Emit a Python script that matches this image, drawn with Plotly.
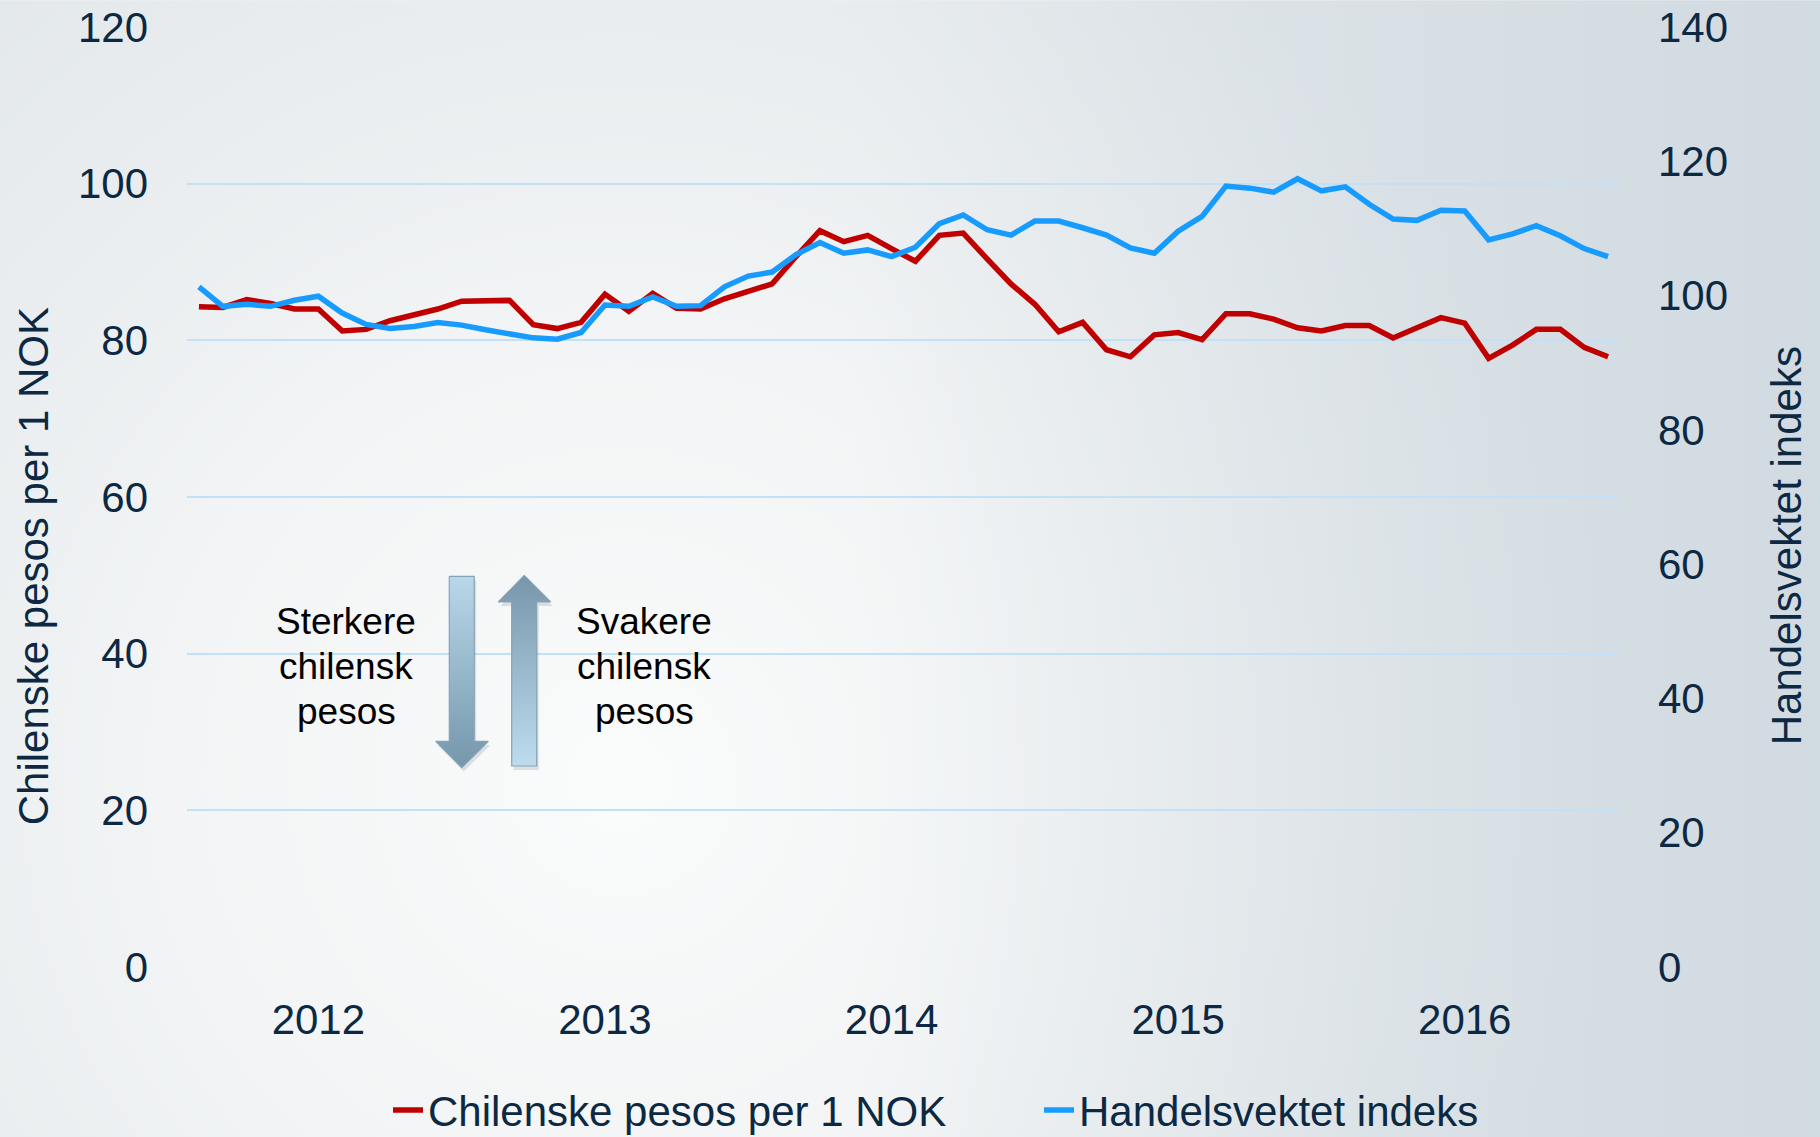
import base64
import pandas as pd
import plotly.graph_objects as go

# Monthly observations, Aug 2011 - Jul 2016
months = pd.date_range("2011-08-01", periods=60, freq="MS").strftime("%Y-%m").tolist()

clp_per_nok = [
    84.3, 84.2, 85.2, 84.7, 84.0, 84.0, 81.2, 81.4, 82.5, 83.2,
    84.0, 85.0, 85.1, 85.1, 82.0, 81.5, 82.3, 85.9, 83.7, 86.0,
    84.1, 84.0, 85.3, 86.3, 87.2, 90.7, 94.0, 92.6, 93.4, 91.7,
    90.1, 93.4, 93.7, 90.4, 87.2, 84.6, 81.1, 82.3, 78.8, 77.9,
    80.7, 81.0, 80.1, 83.4, 83.4, 82.7, 81.6, 81.2, 81.9, 81.9,
    80.3, 81.6, 82.9, 82.2, 77.7, 79.4, 81.4, 81.4, 79.1, 77.9,
]

trade_weighted = [
    101.3, 98.4, 98.7, 98.4, 99.3, 99.9, 97.4, 95.7, 95.1, 95.4,
    96.0, 95.6, 94.9, 94.4, 93.7, 93.5, 94.5, 98.6, 98.4, 99.8,
    98.4, 98.5, 101.3, 102.9, 103.5, 106.1, 107.9, 106.3, 106.8, 105.8,
    107.2, 110.7, 112.0, 109.8, 109.0, 111.1, 111.1, 110.1, 109.0, 107.1,
    106.3, 109.6, 111.8, 116.3, 116.0, 115.4, 117.4, 115.6, 116.2, 113.6,
    111.4, 111.2, 112.7, 112.6, 108.3, 109.2, 110.4, 108.9, 107.0, 105.8,
]

year_ticks = ["2012-01", "2013-01", "2014-01", "2015-01", "2016-01"]
year_labels = ["2012", "2013", "2014", "2015", "2016"]

left_title = "Chilenske pesos per 1 NOK"
right_title = "Handelsvektet indeks"
strong_lines = ["Sterkere", "chilensk", "pesos"]
weak_lines = ["Svakere", "chilensk", "pesos"]

W, H = 1820, 1137
PL, PR, PT, PB = 187, 1620, 26.7, 966.7   # plot area edges in page pixels
FONT = "Liberation Sans, Arial, sans-serif"
NAVY = "#0c2843"


def fx(px):
    return (px - PL) / (PR - PL)


def fy(py):
    return 1 - (py - PT) / (PB - PT)


# soft page background
bg_svg = f"""<svg xmlns="http://www.w3.org/2000/svg" width="{W}" height="{H}" viewBox="0 0 {W} {H}">
<defs>
<radialGradient id="r" gradientUnits="userSpaceOnUse" cx="620" cy="780" r="1000">
<stop offset="0" stop-color="#fafbfb"/>
<stop offset="0.45" stop-color="#f2f4f5"/>
<stop offset="1" stop-color="#e3e8eb"/>
</radialGradient>
<linearGradient id="l" gradientUnits="userSpaceOnUse" x1="850" y1="0" x2="{W}" y2="0">
<stop offset="0" stop-color="#c8d4dc" stop-opacity="0"/>
<stop offset="1" stop-color="#c8d4dc" stop-opacity="0.68"/>
</linearGradient>
</defs>
<rect width="{W}" height="{H}" fill="url(#r)"/>
<rect width="{W}" height="{H}" fill="url(#l)"/>
</svg>"""
bg_uri = "data:image/svg+xml;base64," + base64.b64encode(bg_svg.encode()).decode()

fig = go.Figure()

# direction arrows (page-pixel overlay axes x2 / y3)
down_x = [449.3, 474.2, 474.2, 488.3, 461.8, 435.7, 449.3, 449.3]
down_y = [576.0, 576.0, 741.0, 741.0, 767.3, 741.0, 741.0, 576.0]
up_x = [524.2, 550.7, 536.7, 536.7, 511.7, 511.7, 498.3, 524.2]
up_y = [575.0, 601.7, 601.7, 765.7, 765.7, 601.7, 601.7, 575.0]

for xs, ys in ((down_x, down_y), (up_x, up_y)):
    fig.add_trace(go.Scatter(
        x=[v + 2 for v in xs], y=[v + 4 for v in ys], xaxis="x2", yaxis="y3",
        mode="lines", fill="toself", fillcolor="rgba(70,90,105,0.16)",
        line=dict(width=0), hoverinfo="skip", showlegend=False))

fig.add_trace(go.Scatter(
    x=down_x, y=down_y, xaxis="x2", yaxis="y3", mode="lines", fill="toself",
    fillgradient=dict(type="vertical", start=576, stop=767,
                      colorscale=[[0, "#b9d8ea"], [1, "#7596ab"]]),
    line=dict(color="#86a3b6", width=1.2), hoverinfo="skip", showlegend=False))
fig.add_trace(go.Scatter(
    x=up_x, y=up_y, xaxis="x2", yaxis="y3", mode="lines", fill="toself",
    fillgradient=dict(type="vertical", start=575, stop=766,
                      colorscale=[[0, "#7796ab"], [1, "#bddcee"]]),
    line=dict(color="#86a3b6", width=1.2), hoverinfo="skip", showlegend=False))

fig.add_trace(go.Scatter(
    x=months, y=clp_per_nok, name=left_title, mode="lines",
    line=dict(color="#c00000", width=5.5), yaxis="y"))
fig.add_trace(go.Scatter(
    x=months, y=trade_weighted, name=right_title, mode="lines",
    line=dict(color="#189bff", width=5.5), yaxis="y2"))

tick_font = dict(family=FONT, size=42, color=NAVY)

annotations = [
    dict(text=left_title, xref="paper", yref="paper", x=fx(33), y=fy(566),
         textangle=-90, showarrow=False, xanchor="center", yanchor="middle",
         font=dict(family=FONT, size=42, color=NAVY)),
    dict(text=right_title, xref="paper", yref="paper", x=fx(1786), y=fy(546),
         textangle=-90, showarrow=False, xanchor="center", yanchor="middle",
         font=dict(family=FONT, size=42, color=NAVY)),
]
for cx, lines in ((346, strong_lines), (644, weak_lines)):
    for k, line in enumerate(lines):
        annotations.append(dict(
            text=line, xref="x2", yref="y3", x=cx, y=621 + 45 * k,
            showarrow=False, xanchor="center", yanchor="middle",
            font=dict(family=FONT, size=37, color="#000000")))

fig.update_layout(
    width=W, height=H,
    margin=dict(l=PL, r=W - PR, t=PT, b=H - PB, pad=0, autoexpand=False),
    paper_bgcolor="#eef1f3",
    plot_bgcolor="rgba(0,0,0,0)",
    hovermode=False,
    font=dict(family=FONT, color=NAVY),
    xaxis=dict(
        type="category", range=[-0.5, len(months) - 0.5],
        tickmode="array", tickvals=year_ticks, ticktext=year_labels,
        showgrid=False, zeroline=False, showline=False, ticks="",
        tickfont=tick_font, ticklabelstandoff=24, automargin=False),
    yaxis=dict(
        range=[0, 120], dtick=20, showgrid=True, gridcolor="#c2e0f6",
        gridwidth=1.5, zeroline=False, showline=False, ticks="",
        tickfont=tick_font, ticklabelstandoff=38, automargin=False),
    yaxis2=dict(
        range=[0, 140], dtick=20, overlaying="y", side="right",
        showgrid=False, zeroline=False, showline=False, ticks="",
        tickfont=tick_font, ticklabelstandoff=37, automargin=False),
    xaxis2=dict(range=[PL, PR], overlaying="x", visible=False),
    yaxis3=dict(range=[PB, PT], overlaying="y", visible=False),
    legend=dict(
        orientation="h", x=fx(388), xanchor="left", y=fy(1110), yanchor="middle",
        font=dict(family=FONT, size=42, color=NAVY),
        bgcolor="rgba(0,0,0,0)", entrywidth=606, entrywidthmode="pixels",
        traceorder="normal"),
    images=[dict(
        source=bg_uri, xref="paper", yref="paper", x=fx(0), y=fy(0),
        sizex=W / (PR - PL), sizey=H / (PB - PT), xanchor="left", yanchor="top",
        sizing="stretch", layer="below")],
    annotations=annotations,
)

fig.write_html("out.html")
